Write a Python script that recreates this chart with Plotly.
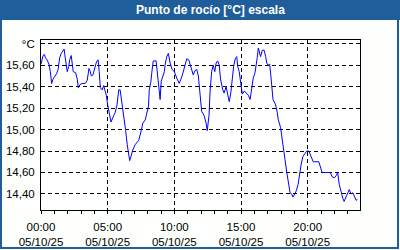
import pandas as pd
import plotly.graph_objects as go

# Minutes since 00:00 on 05/10/25
minutes = [
    0, 9, 15, 20, 27, 36, 42, 48, 54, 61,
    70, 77, 84, 91, 97, 104, 107, 113, 118, 125,
    129, 136, 141, 145, 156, 163, 168, 176, 185, 199,
    208, 216, 222, 226, 234, 242, 248, 252, 257, 262,
    267, 275, 282, 287, 293, 300, 307, 315, 323, 334,
    342, 350, 356, 361, 368, 375, 381, 388, 395, 399,
    405, 413, 424, 440, 451, 458, 469, 477, 484, 487,
    494, 498, 505, 518, 523, 529, 536, 541, 548, 555,
    559, 566, 573, 581, 590, 600, 611, 622, 635, 645,
    656, 665, 672, 680, 685, 693, 701, 708, 712, 717,
    723, 734, 743, 748, 756, 761, 768, 775, 782, 788,
    795, 802, 808, 818, 824, 833, 840, 847, 854, 861,
    867, 874, 881, 885, 892, 899, 906, 915, 926, 933,
    941, 948, 955, 963, 971, 973, 978, 983, 988, 996,
    1004, 1011, 1016, 1022, 1029, 1034, 1038, 1044, 1049, 1056,
    1063, 1068, 1078, 1083, 1090, 1098, 1106, 1113, 1121, 1128,
    1134, 1142, 1149, 1157, 1164, 1171, 1179, 1187, 1196, 1205,
    1211, 1220, 1225, 1238, 1250, 1256, 1265, 1275, 1286, 1295,
    1302, 1310, 1320, 1328, 1335, 1342, 1350, 1358, 1364, 1373,
    1380, 1387, 1395, 1403, 1410, 1418, 1424,
]

dew_point = [
    15.61, 15.69, 15.70, 15.67, 15.65, 15.61, 15.54, 15.43, 15.47, 15.49,
    15.52, 15.56, 15.67, 15.71, 15.73, 15.75, 15.70, 15.62, 15.54, 15.59,
    15.65, 15.69, 15.62, 15.54, 15.53, 15.47, 15.39, 15.42, 15.43, 15.43,
    15.46, 15.57, 15.54, 15.50, 15.51, 15.59, 15.62, 15.64, 15.65, 15.54,
    15.39, 15.37, 15.41, 15.37, 15.33, 15.23, 15.14, 15.07, 15.11, 15.16,
    15.23, 15.37, 15.37, 15.30, 15.20, 15.09, 14.99, 14.86, 14.78, 14.71,
    14.75, 14.81, 14.86, 14.90, 14.99, 15.06, 15.09, 15.17, 15.22, 15.37,
    15.44, 15.52, 15.64, 15.64, 15.54, 15.36, 15.28, 15.45, 15.51, 15.54,
    15.61, 15.68, 15.71, 15.62, 15.56, 15.54, 15.48, 15.43, 15.50, 15.59,
    15.66, 15.65, 15.60, 15.53, 15.51, 15.55, 15.56, 15.50, 15.39, 15.25,
    15.17, 15.13, 15.06, 14.99, 15.13, 15.36, 15.54, 15.60, 15.54, 15.62,
    15.64, 15.60, 15.47, 15.37, 15.34, 15.40, 15.33, 15.26, 15.34, 15.48,
    15.59, 15.66, 15.68, 15.59, 15.54, 15.43, 15.33, 15.36, 15.34, 15.32,
    15.28, 15.37, 15.48, 15.53, 15.62, 15.67, 15.76, 15.71, 15.68, 15.74,
    15.74, 15.68, 15.62, 15.60, 15.61, 15.51, 15.41, 15.28, 15.26, 15.23,
    15.16, 15.09, 15.02, 14.93, 14.83, 14.72, 14.60, 14.49, 14.41, 14.40,
    14.37, 14.40, 14.43, 14.49, 14.60, 14.68, 14.75, 14.77, 14.80, 14.80,
    14.77, 14.72, 14.70, 14.70, 14.70, 14.66, 14.60, 14.60, 14.60, 14.60,
    14.60, 14.56, 14.55, 14.57, 14.60, 14.49, 14.41, 14.36, 14.33, 14.38,
    14.40, 14.44, 14.40, 14.41, 14.38, 14.34, 14.35,
]

x_tick_vals = ["2025-10-05 00:00", "2025-10-05 05:00", "2025-10-05 10:00",
               "2025-10-05 15:00", "2025-10-05 20:00"]
x_tick_text = ["00:00<br>05/10/25", "05:00<br>05/10/25", "10:00<br>05/10/25",
               "15:00<br>05/10/25", "20:00<br>05/10/25"]
y_tick_vals = [14.4, 14.6, 14.8, 15.0, 15.2, 15.4, 15.6, 15.8]
y_tick_text = ["14,40", "14,60", "14,80", "15,00", "15,20", "15,40", "15,60", "°C"]
title_text = "Punto de rocío [°C] escala"

times = pd.Timestamp("2025-10-05") + pd.to_timedelta(minutes, unit="min")

FONT = "Liberation Sans"
BLUE_BAR = "#1f5e9a"

fig = go.Figure()
fig.add_trace(go.Scatter(x=times, y=dew_point, mode="lines",
                         line=dict(color="#0000ff", width=1), hoverinfo="skip"))

W, H = 400, 250
L, R, T, B = 41, 40, 40, 40
pw, ph = W - L - R, H - T - B

def px_x(px):
    return (px - L) / pw

def px_y(py):
    return (H - B - py) / ph

fig.update_layout(
    width=W, height=H,
    margin=dict(l=L, r=R, t=T, b=B, autoexpand=False),
    paper_bgcolor="#fcfffc",
    plot_bgcolor="white",
    showlegend=False,
    font=dict(family=FONT, size=11, color="black"),
    xaxis=dict(
        range=["2025-10-05 00:00", "2025-10-05 23:55:30"],
        automargin=False,
        tickmode="array", tickvals=x_tick_vals, ticktext=x_tick_text,
        ticks="outside", ticklen=3, tickcolor="black",
        ticklabelstandoff=3,
        showgrid=True, gridcolor="black", gridwidth=1, griddash="4px,3px",
        showline=True, linecolor="black", linewidth=1, mirror=True,
        zeroline=False,
        minor=dict(ticks="outside", ticklen=3, tickcolor="black",
                   dtick=3600000, tick0="2025-10-05 00:00", showgrid=False),
        tickfont=dict(family=FONT, size=11.5, color="black"),
    ),
    yaxis=dict(
        range=[14.25, 15.835],
        automargin=False,
        tickmode="array", tickvals=y_tick_vals, ticktext=y_tick_text,
        ticks="", ticklabelstandoff=3,
        showgrid=True, gridcolor="black", gridwidth=1, griddash="4px,3px",
        showline=True, linecolor="black", linewidth=1, mirror=True,
        zeroline=False,
        tickfont=dict(family=FONT, size=11.5, color="black"),
    ),
    shapes=[
        dict(type="rect", xref="paper", yref="paper",
             x0=px_x(0), x1=px_x(W), y0=px_y(20), y1=px_y(0),
             fillcolor=BLUE_BAR, line=dict(width=0), layer="below"),
        dict(type="rect", xref="paper", yref="paper",
             x0=px_x(1), x1=px_x(W - 2), y0=px_y(H - 2), y1=px_y(1),
             fillcolor="rgba(0,0,0,0)", line=dict(color=BLUE_BAR, width=2)),
    ],
    annotations=[
        dict(text="<b>" + title_text + "</b>", xref="paper", yref="paper",
             x=px_x(210), y=px_y(10), xanchor="center", yanchor="middle",
             showarrow=False, font=dict(family=FONT, size=12, color="white")),
    ],
)

fig.write_html("out.html")
